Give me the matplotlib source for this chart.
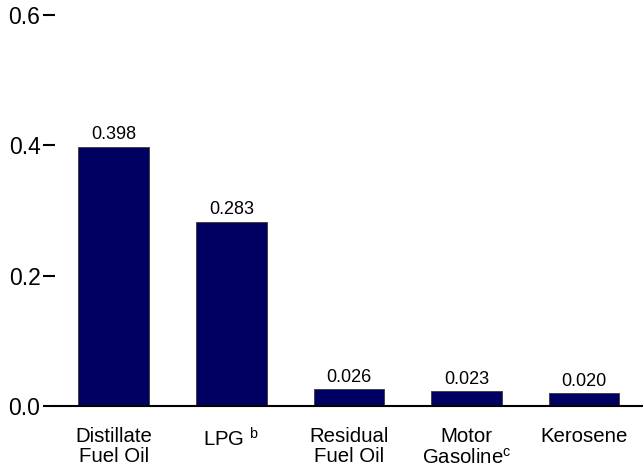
import matplotlib.pyplot as plt

plt.rcParams['font.family'] = ['Liberation Sans', 'DejaVu Sans']
plt.rcParams['mathtext.fontset'] = 'custom'
plt.rcParams['mathtext.rm'] = 'Liberation Sans'

# Dados do gráfico
categorias = ['Distillate\nFuel Oil', 'LPG $^{\\rm b}$', 'Residual\nFuel Oil',
              'Motor\nGasoline$^{\\rm c}$', 'Kerosene']
valores = [0.398, 0.283, 0.026, 0.023, 0.020]
rotulos = ['0.398', '0.283', '0.026', '0.023', '0.020']
yticks = [0.0, 0.2, 0.4, 0.6]

fig = plt.figure(figsize=(6.43, 4.70), dpi=100)
ax = fig.add_axes([0.0855, 0.136, 0.9145, 0.832])

x = range(len(valores))
barras = ax.bar(x, valores, width=0.6, color='#000062', edgecolor='#444444', linewidth=0.7)

# Rótulos de valor acima das barras
for b, r in zip(barras, rotulos):
    ax.text(b.get_x() + b.get_width() / 2, b.get_height() + 0.005, r,
            ha='center', va='bottom', fontsize=13)

ax.set_xlim(-0.5, 4.5)
ax.set_ylim(0, 0.6)
ax.set_yticks(yticks)
ax.set_yticklabels(['%.1f' % v for v in yticks], fontsize=16.5)
ax.set_xticks(list(x))
ax.set_xticklabels(categorias, fontsize=14.7, linespacing=1.1)

for s in ['top', 'right', 'left']:
    ax.spines[s].set_visible(False)
ax.spines['bottom'].set_linewidth(1.5)
ax.tick_params(axis='y', length=8.5, width=1.5, direction='out', pad=2)
ax.tick_params(axis='x', length=0, pad=15)

fig.savefig('out.png', dpi=100)
